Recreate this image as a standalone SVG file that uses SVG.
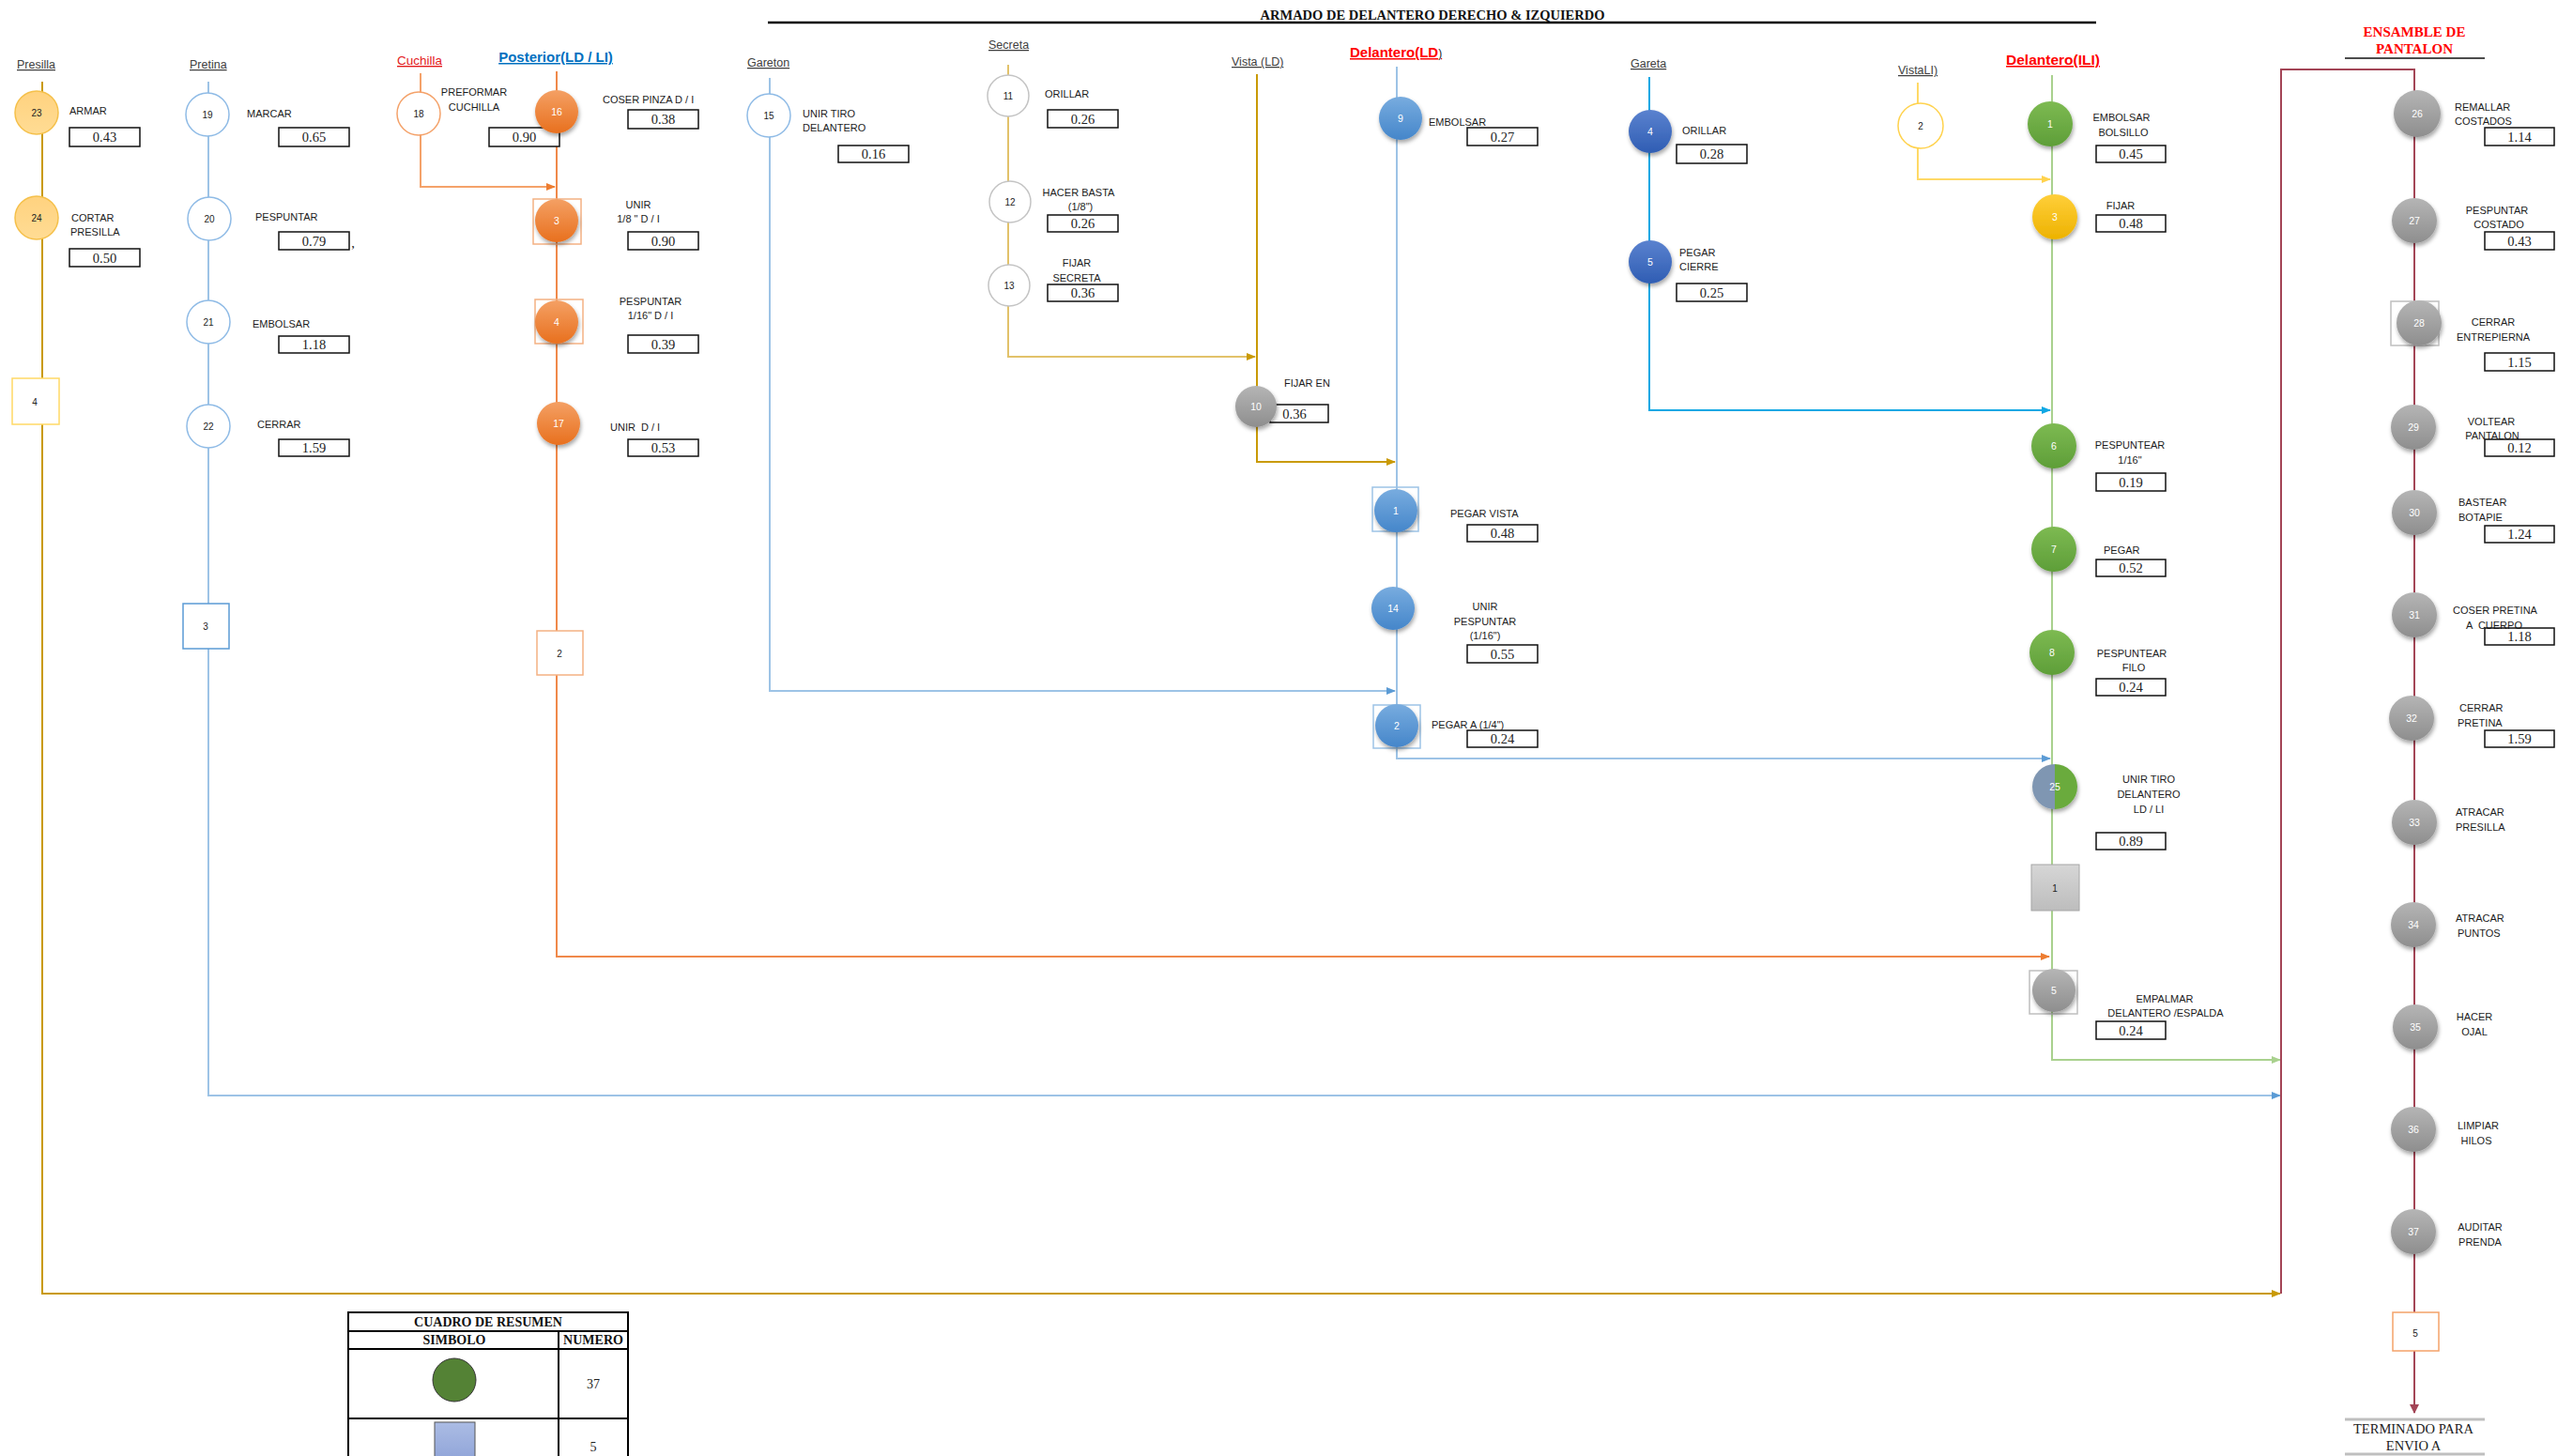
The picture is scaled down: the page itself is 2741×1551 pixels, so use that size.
<svg xmlns="http://www.w3.org/2000/svg" width="2741" height="1551" viewBox="0 0 2741 1551">
<style>
text{font-family:"Liberation Sans",Arial,sans-serif;}
.lb{font-size:11px;fill:#1c1c1c;}
.c{text-anchor:middle;}
.hd{font-size:12.5px;fill:#404040;text-decoration:underline;}
.num{font-size:10px;text-anchor:middle;fill:#222;}
.numw{font-size:10.5px;text-anchor:middle;fill:#fff;}
.val{font-family:"Liberation Serif","Times New Roman",serif;font-size:14.5px;text-anchor:middle;fill:#222;}
.box{fill:#fff;stroke:#111;stroke-width:1.5;}
.ser{font-family:"Liberation Serif","Times New Roman",serif;}
.ln{fill:none;stroke-width:2;}
</style>
<defs>
<filter id="sh" x="-30%" y="-30%" width="160%" height="170%"><feDropShadow dx="1" dy="3" stdDeviation="2" flood-color="#000" flood-opacity="0.35"/></filter>
<linearGradient id="gOr" x1="0" y1="0" x2="0" y2="1"><stop offset="0" stop-color="#F4A064"/><stop offset="1" stop-color="#E8701E"/></linearGradient>
<linearGradient id="gBl" x1="0" y1="0" x2="0" y2="1"><stop offset="0" stop-color="#78ACDF"/><stop offset="1" stop-color="#4586CA"/></linearGradient>
<linearGradient id="gDb" x1="0" y1="0" x2="0" y2="1"><stop offset="0" stop-color="#5B82CF"/><stop offset="1" stop-color="#2F5DB3"/></linearGradient>
<linearGradient id="gGr" x1="0" y1="0" x2="0" y2="1"><stop offset="0" stop-color="#7DBA52"/><stop offset="1" stop-color="#5E9E38"/></linearGradient>
<linearGradient id="gYe" x1="0" y1="0" x2="0" y2="1"><stop offset="0" stop-color="#FFCF3A"/><stop offset="1" stop-color="#EDB200"/></linearGradient>
<linearGradient id="gGy" x1="0" y1="0" x2="0" y2="1"><stop offset="0" stop-color="#B5B5B5"/><stop offset="1" stop-color="#8E8E8E"/></linearGradient>
<linearGradient id="gPa" x1="0" y1="0" x2="0" y2="1"><stop offset="0" stop-color="#FFD27F"/><stop offset="1" stop-color="#FFDC94"/></linearGradient>
<linearGradient id="gRg" x1="0" y1="0" x2="0" y2="1"><stop offset="0" stop-color="#D6D6D6"/><stop offset="1" stop-color="#BDBDBD"/></linearGradient>
<linearGradient id="gSq" x1="0" y1="0" x2="0" y2="1"><stop offset="0" stop-color="#ABBCE4"/><stop offset="1" stop-color="#8A9FD6"/></linearGradient>
<marker id="aGold" markerUnits="userSpaceOnUse" markerWidth="10" markerHeight="8" refX="9" refY="4" orient="auto"><path d="M0,0 L10,4 L0,8 z" fill="#C99A06"/></marker>
<marker id="aBlue" markerUnits="userSpaceOnUse" markerWidth="10" markerHeight="8" refX="9" refY="4" orient="auto"><path d="M0,0 L10,4 L0,8 z" fill="#5B9BD5"/></marker>
<marker id="aOr" markerUnits="userSpaceOnUse" markerWidth="10" markerHeight="8" refX="9" refY="4" orient="auto"><path d="M0,0 L10,4 L0,8 z" fill="#ED7D31"/></marker>
<marker id="aCy" markerUnits="userSpaceOnUse" markerWidth="10" markerHeight="8" refX="9" refY="4" orient="auto"><path d="M0,0 L10,4 L0,8 z" fill="#10A8E4"/></marker>
<marker id="aYe" markerUnits="userSpaceOnUse" markerWidth="10" markerHeight="8" refX="9" refY="4" orient="auto"><path d="M0,0 L10,4 L0,8 z" fill="#FFD24D"/></marker>
<marker id="aGr" markerUnits="userSpaceOnUse" markerWidth="10" markerHeight="8" refX="9" refY="4" orient="auto"><path d="M0,0 L10,4 L0,8 z" fill="#A9D18E"/></marker>
<marker id="aMa" markerUnits="userSpaceOnUse" markerWidth="10" markerHeight="10" refX="9" refY="5" orient="auto"><path d="M0,0 L10,5 L0,10 z" fill="#A34556"/></marker>
</defs>
<rect width="2741" height="1551" fill="#fff"/>

<!-- Title -->
<g id="title">
<line x1="818" y1="24" x2="2233" y2="24" stroke="#000" stroke-width="2.5"/>
<text x="1526" y="21" class="ser" font-size="14.5" font-weight="bold" text-anchor="middle" fill="#111">ARMADO DE DELANTERO DERECHO &amp; IZQUIERDO</text>
</g>

<!-- Headers -->
<g id="headers">
<text x="18" y="73" class="hd">Presilla</text>
<text x="202" y="73" class="hd">Pretina</text>
<text x="423" y="69" font-size="13.5" fill="#E31B1B" text-decoration="underline">Cuchilla</text>
<text x="592" y="66" font-size="15" font-weight="bold" fill="#0070C0" text-anchor="middle" text-decoration="underline">Posterior(LD / LI)</text>
<text x="796" y="71" class="hd">Gareton</text>
<text x="1053" y="52" class="hd">Secreta</text>
<text x="1312" y="70" class="hd">Vista (LD)</text>
<text x="1438" y="61" font-size="15" font-weight="bold" fill="#FF0000" text-decoration="underline">Delantero(LD<tspan fill="#222" font-weight="normal" font-size="12">)</tspan></text>
<text x="1737" y="72" class="hd">Gareta</text>
<text x="2022" y="79" class="hd">VistaLI)</text>
<text x="2187" y="69" font-size="15.5" font-weight="bold" fill="#FF0000" text-anchor="middle" text-decoration="underline">Delantero(ILI)</text>
<text x="2572" y="39" class="ser" font-size="15" font-weight="bold" fill="#FF0000" text-anchor="middle">ENSAMBLE DE</text>
<text x="2572" y="57" class="ser" font-size="15" font-weight="bold" fill="#FF0000" text-anchor="middle">PANTALON</text>
<line x1="2498" y1="62" x2="2647" y2="62" stroke="#111" stroke-width="1.5"/>
</g>

<!-- Connectors -->
<g id="connectors">
<path class="ln" d="M45 87 V1378 H2429" stroke="#C99A06" stroke-width="2.5" marker-end="url(#aGold)"/>
<path class="ln" d="M222 87 V1167 H2429" stroke="#9DC3E6" marker-end="url(#aBlue)"/>
<path class="ln" d="M448 78 V199 H591" stroke="#F4A26A" marker-end="url(#aOr)"/>
<path class="ln" d="M593 76 V1019 H2183" stroke="#F0894A" marker-end="url(#aOr)"/>
<path class="ln" d="M820 83 V736 H1486" stroke="#9DC3E6" marker-end="url(#aBlue)"/>
<path class="ln" d="M1074 69 V380 H1337" stroke="#E2C26A" marker-end="url(#aGold)"/>
<path class="ln" d="M1339 79 V492 H1486" stroke="#C99A06" stroke-width="2.5" marker-end="url(#aGold)"/>
<path class="ln" d="M1488 71 V808 H2184" stroke="#9DC3E6" marker-end="url(#aBlue)"/>
<path class="ln" d="M1757 82 V437 H2184" stroke="#10A8E4" stroke-width="2.5" marker-end="url(#aCy)"/>
<path class="ln" d="M2043 88 V191 H2184" stroke="#FFD966" marker-end="url(#aYe)"/>
<path class="ln" d="M2186 80 V1129 H2429" stroke="#A9D18E" stroke-width="2.5" marker-end="url(#aGr)"/>
<path class="ln" d="M2430 1378 V74 H2572 V1505" stroke="#A34556" stroke-width="3.5" marker-end="url(#aMa)"/>
</g>

<!-- Presilla -->
<g id="n23"><circle cx="39" cy="120" r="23" fill="url(#gPa)" stroke="#F5C04A" stroke-width="1.5"/><text x="39" y="124" class="num">23</text>
<text x="74" y="122" class="lb">ARMAR</text><rect x="74" y="136" width="75" height="20" class="box"/><text x="111.5" y="151" class="val">0.43</text></g>
<g id="n24"><circle cx="39" cy="232" r="23" fill="url(#gPa)" stroke="#F5C04A" stroke-width="1.5"/><text x="39" y="236" class="num">24</text>
<text x="76" y="236" class="lb">CORTAR</text><text x="75" y="251" class="lb">PRESILLA</text><rect x="74" y="265" width="75" height="19" class="box"/><text x="111.5" y="279.5" class="val">0.50</text></g>
<g id="r4"><rect x="13" y="403" width="50" height="49" fill="#fff" stroke="#FFD966" stroke-width="1.5"/><text x="37" y="432" class="num">4</text></g>

<!-- Pretina -->
<g id="n19"><circle cx="221" cy="122" r="23" fill="#fff" stroke="#8FBBE6" stroke-width="1.5"/><text x="221" y="126" class="num">19</text>
<text x="263" y="125" class="lb">MARCAR</text><rect x="297" y="136" width="75" height="20" class="box"/><text x="334.5" y="151" class="val">0.65</text></g>
<g id="n20"><circle cx="223" cy="233" r="23" fill="#fff" stroke="#8FBBE6" stroke-width="1.5"/><text x="223" y="237" class="num">20</text>
<text x="272" y="235" class="lb">PESPUNTAR</text><rect x="297" y="247" width="75" height="19" class="box"/><text x="334.5" y="261.5" class="val">0.79</text><text x="376" y="264" class="val">,</text></g>
<g id="n21"><circle cx="222" cy="343" r="23" fill="#fff" stroke="#8FBBE6" stroke-width="1.5"/><text x="222" y="347" class="num">21</text>
<text x="269" y="349" class="lb">EMBOLSAR</text><rect x="297" y="358" width="75" height="18" class="box"/><text x="334.5" y="372" class="val">1.18</text></g>
<g id="n22"><circle cx="222" cy="454" r="23" fill="#fff" stroke="#8FBBE6" stroke-width="1.5"/><text x="222" y="458" class="num">22</text>
<text x="274" y="456" class="lb">CERRAR</text><rect x="297" y="468" width="75" height="18" class="box"/><text x="334.5" y="482" class="val">1.59</text></g>
<g id="r3"><rect x="195" y="643" width="49" height="48" fill="#fff" stroke="#5B9BD5" stroke-width="1.5"/><text x="219" y="671" class="num">3</text></g>

<!-- Cuchilla -->
<g id="n18"><circle cx="446" cy="121" r="23" fill="#fff" stroke="#F4A26A" stroke-width="1.5"/><text x="446" y="125" class="num">18</text>
<text x="505" y="102" class="lb c">PREFORMAR</text><text x="505" y="118" class="lb c">CUCHILLA</text>
<rect x="521" y="136" width="75" height="20" class="box"/><text x="558.5" y="151" class="val">0.90</text></g>

<!-- Posterior -->
<g id="n16"><circle cx="593" cy="119" r="23" fill="url(#gOr)" filter="url(#sh)"/><text x="593" y="123" class="numw">16</text>
<text x="642" y="110" class="lb">COSER PINZA D / I</text><rect x="669" y="117" width="75" height="20" class="box"/><text x="706.5" y="132" class="val">0.38</text></g>
<g id="n3p"><rect x="568" y="212" width="51" height="48" fill="none" stroke="#F4B183" stroke-width="1.5"/><circle cx="593" cy="235" r="23" fill="url(#gOr)" filter="url(#sh)"/><text x="593" y="239" class="numw">3</text>
<text x="680" y="222" class="lb c">UNIR</text><text x="680" y="237" class="lb c">1/8 " D / I</text><rect x="669" y="247" width="75" height="19" class="box"/><text x="706.5" y="261.5" class="val">0.90</text></g>
<g id="n4p"><rect x="570" y="319" width="51" height="47" fill="none" stroke="#F4B183" stroke-width="1.5"/><circle cx="593" cy="343" r="23" fill="url(#gOr)" filter="url(#sh)"/><text x="593" y="347" class="numw">4</text>
<text x="693" y="325" class="lb c">PESPUNTAR</text><text x="693" y="340" class="lb c">1/16" D / I</text><rect x="669" y="357" width="75" height="19" class="box"/><text x="706.5" y="371.5" class="val">0.39</text></g>
<g id="n17"><circle cx="595" cy="451" r="23" fill="url(#gOr)" filter="url(#sh)"/><text x="595" y="455" class="numw">17</text>
<text x="650" y="459" class="lb" xml:space="preserve">UNIR  D / I</text><rect x="669" y="468" width="75" height="18" class="box"/><text x="706.5" y="482" class="val">0.53</text></g>
<g id="r2"><rect x="572" y="672" width="49" height="47" fill="#fff" stroke="#F4B183" stroke-width="1.5"/><text x="596" y="700" class="num">2</text></g>

<!-- Gareton -->
<g id="n15"><circle cx="819" cy="123" r="23" fill="#fff" stroke="#8FBBE6" stroke-width="1.5"/><text x="819" y="127" class="num">15</text>
<text x="855" y="125" class="lb">UNIR TIRO</text><text x="855" y="140" class="lb">DELANTERO</text>
<rect x="893" y="155" width="75" height="18" class="box"/><text x="930.5" y="169" class="val">0.16</text></g>

<!-- Secreta -->
<g id="n11"><circle cx="1074" cy="102" r="22" fill="#fff" stroke="#C4C4C4" stroke-width="1.5"/><text x="1074" y="106" class="num">11</text>
<text x="1113" y="104" class="lb">ORILLAR</text><rect x="1116" y="117" width="75" height="19" class="box"/><text x="1153.5" y="131.5" class="val">0.26</text></g>
<g id="n12"><circle cx="1076" cy="215" r="22" fill="#fff" stroke="#C4C4C4" stroke-width="1.5"/><text x="1076" y="219" class="num">12</text>
<text x="1149" y="209" class="lb c">HACER BASTA</text><text x="1151" y="224" class="lb c">(1/8")</text><rect x="1116" y="229" width="75" height="18" class="box"/><text x="1153.5" y="243" class="val">0.26</text></g>
<g id="n13"><circle cx="1075" cy="304" r="22" fill="#fff" stroke="#C4C4C4" stroke-width="1.5"/><text x="1075" y="308" class="num">13</text>
<text x="1147" y="284" class="lb c">FIJAR</text><text x="1147" y="300" class="lb c">SECRETA</text><rect x="1116" y="303" width="75" height="18" class="box"/><text x="1153.5" y="317" class="val">0.36</text></g>

<!-- Vista LD -->
<g id="n10"><rect x="1353" y="431" width="62" height="19" class="box"/><text x="1379" y="445.5" class="val">0.36</text>
<circle cx="1338" cy="433" r="22" fill="url(#gGy)" filter="url(#sh)"/><text x="1338" y="437" class="numw">10</text>
<text x="1368" y="412" class="lb">FIJAR EN</text></g>

<!-- Delantero LD -->
<g id="n9"><circle cx="1492" cy="126" r="23" fill="url(#gBl)" filter="url(#sh)"/><text x="1492" y="130" class="numw">9</text>
<text x="1522" y="134" class="lb">EMBOLSAR</text><rect x="1563" y="136" width="75" height="19" class="box"/><text x="1600.5" y="150.5" class="val">0.27</text></g>
<g id="n1d"><rect x="1462" y="519" width="49" height="47" fill="none" stroke="#9DC3E6" stroke-width="1.5"/><circle cx="1487" cy="544" r="23" fill="url(#gBl)" filter="url(#sh)"/><text x="1487" y="548" class="numw">1</text>
<text x="1545" y="551" class="lb">PEGAR VISTA</text><rect x="1563" y="559" width="75" height="18" class="box"/><text x="1600.5" y="573" class="val">0.48</text></g>
<g id="n14"><circle cx="1484" cy="648" r="23" fill="url(#gBl)" filter="url(#sh)"/><text x="1484" y="652" class="numw">14</text>
<text x="1582" y="650" class="lb c">UNIR</text><text x="1582" y="666" class="lb c">PESPUNTAR</text><text x="1582" y="681" class="lb c">(1/16")</text>
<rect x="1563" y="687" width="75" height="19" class="box"/><text x="1600.5" y="701.5" class="val">0.55</text></g>
<g id="n2d"><rect x="1463" y="751" width="50" height="46" fill="none" stroke="#9DC3E6" stroke-width="1.5"/><circle cx="1488" cy="773" r="23" fill="url(#gBl)" filter="url(#sh)"/><text x="1488" y="777" class="numw">2</text>
<rect x="1563" y="778" width="75" height="18" class="box"/><text x="1600.5" y="792" class="val">0.24</text><text x="1525" y="776" class="lb">PEGAR A (1/4")</text></g>

<!-- Gareta -->
<g id="n4g"><circle cx="1758" cy="140" r="23" fill="url(#gDb)" filter="url(#sh)"/><text x="1758" y="144" class="numw">4</text>
<text x="1792" y="143" class="lb">ORILLAR</text><rect x="1786" y="154" width="75" height="20" class="box"/><text x="1823.5" y="169" class="val">0.28</text></g>
<g id="n5g"><circle cx="1758" cy="279" r="23" fill="url(#gDb)" filter="url(#sh)"/><text x="1758" y="283" class="numw">5</text>
<text x="1789" y="273" class="lb">PEGAR</text><text x="1789" y="288" class="lb">CIERRE</text><rect x="1786" y="302" width="75" height="19" class="box"/><text x="1823.5" y="316.5" class="val">0.25</text></g>

<!-- Vista LI -->
<g id="n2v"><circle cx="2046" cy="134" r="24" fill="#fff" stroke="#FFD24D" stroke-width="1.5"/><text x="2046" y="138" class="num">2</text></g>

<!-- Delantero ILI -->
<g id="n1i"><circle cx="2184" cy="132" r="24" fill="url(#gGr)" filter="url(#sh)"/><text x="2184" y="136" class="numw">1</text>
<text x="2260" y="129" class="lb c">EMBOLSAR</text><text x="2262" y="145" class="lb c">BOLSILLO</text><rect x="2233" y="155" width="74" height="18" class="box"/><text x="2270" y="169" class="val">0.45</text></g>
<g id="n3i"><circle cx="2189" cy="231" r="24" fill="url(#gYe)" filter="url(#sh)"/><text x="2189" y="235" class="numw">3</text>
<text x="2259" y="223" class="lb c">FIJAR</text><rect x="2233" y="229" width="74" height="18" class="box"/><text x="2270" y="243" class="val">0.48</text></g>
<g id="n6"><circle cx="2188" cy="475" r="24" fill="url(#gGr)" filter="url(#sh)"/><text x="2188" y="479" class="numw">6</text>
<text x="2269" y="478" class="lb c">PESPUNTEAR</text><text x="2269" y="494" class="lb c">1/16"</text><rect x="2233" y="504" width="74" height="19" class="box"/><text x="2270" y="518.5" class="val">0.19</text></g>
<g id="n7"><circle cx="2188" cy="585" r="24" fill="url(#gGr)" filter="url(#sh)"/><text x="2188" y="589" class="numw">7</text>
<text x="2241" y="590" class="lb">PEGAR</text><rect x="2233" y="596" width="74" height="18" class="box"/><text x="2270" y="610" class="val">0.52</text></g>
<g id="n8"><circle cx="2186" cy="695" r="24" fill="url(#gGr)" filter="url(#sh)"/><text x="2186" y="699" class="numw">8</text>
<text x="2271" y="700" class="lb c">PESPUNTEAR</text><text x="2273" y="715" class="lb c">FILO</text><rect x="2233" y="723" width="74" height="18" class="box"/><text x="2270" y="737" class="val">0.24</text></g>
<g id="n25"><g filter="url(#sh)"><path d="M2189 814 A24 24 0 0 0 2189 862 Z" fill="#7F96B2"/><path d="M2189 814 A24 24 0 0 1 2189 862 Z" fill="#6AAB3E"/></g><text x="2189" y="842" class="numw">25</text>
<text x="2289" y="834" class="lb c">UNIR TIRO</text><text x="2289" y="850" class="lb c">DELANTERO</text><text x="2289" y="866" class="lb c">LD / LI</text>
<rect x="2233" y="887" width="74" height="18" class="box"/><text x="2270" y="901" class="val">0.89</text></g>
<g id="r1"><rect x="2164" y="921" width="51" height="49" fill="url(#gRg)" stroke="#A6A6A6" stroke-width="1"/><text x="2189" y="950" class="num">1</text></g>
<g id="n5i"><rect x="2162" y="1034" width="51" height="46" fill="none" stroke="#BFBFBF" stroke-width="1.5"/><circle cx="2188" cy="1055" r="23" fill="url(#gGy)" filter="url(#sh)"/><text x="2188" y="1059" class="numw">5</text>
<text x="2306" y="1068" class="lb c">EMPALMAR</text><text x="2307" y="1083" class="lb c">DELANTERO /ESPALDA</text><rect x="2233" y="1088" width="74" height="19" class="box"/><text x="2270" y="1102.5" class="val">0.24</text></g>

<!-- Ensamble -->
<g id="n26"><circle cx="2575" cy="121" r="25" fill="url(#gGy)" filter="url(#sh)"/><text x="2575" y="125" class="numw">26</text>
<text x="2615" y="118" class="lb">REMALLAR</text><text x="2615" y="133" class="lb">COSTADOS</text><rect x="2647" y="136" width="74" height="19" class="box"/><text x="2684" y="150.5" class="val">1.14</text></g>
<g id="n27"><circle cx="2572" cy="235" r="24" fill="url(#gGy)" filter="url(#sh)"/><text x="2572" y="239" class="numw">27</text>
<text x="2660" y="228" class="lb c">PESPUNTAR</text><text x="2662" y="243" class="lb c">COSTADO</text><rect x="2647" y="247" width="74" height="19" class="box"/><text x="2684" y="261.5" class="val">0.43</text></g>
<g id="n28"><rect x="2547" y="321" width="51" height="47" fill="none" stroke="#BFBFBF" stroke-width="1.5"/><circle cx="2577" cy="344" r="24" fill="url(#gGy)" filter="url(#sh)"/><text x="2577" y="348" class="numw">28</text>
<text x="2656" y="347" class="lb c">CERRAR</text><text x="2656" y="363" class="lb c">ENTREPIERNA</text><rect x="2647" y="376" width="74" height="19" class="box"/><text x="2684" y="390.5" class="val">1.15</text></g>
<g id="n29"><circle cx="2571" cy="455" r="24" fill="url(#gGy)" filter="url(#sh)"/><text x="2571" y="459" class="numw">29</text>
<text x="2654" y="453" class="lb c">VOLTEAR</text><text x="2655" y="468" class="lb c">PANTALON</text><rect x="2647" y="468" width="74" height="18" class="box" fill-opacity="0"/><text x="2684" y="482" class="val">0.12</text></g>
<g id="n30"><circle cx="2572" cy="546" r="24" fill="url(#gGy)" filter="url(#sh)"/><text x="2572" y="550" class="numw">30</text>
<text x="2619" y="539" class="lb">BASTEAR</text><text x="2619" y="555" class="lb">BOTAPIE</text><rect x="2647" y="560" width="74" height="18" class="box"/><text x="2684" y="574" class="val">1.24</text></g>
<g id="n31"><circle cx="2572" cy="655" r="24" fill="url(#gGy)" filter="url(#sh)"/><text x="2572" y="659" class="numw">31</text>
<text x="2658" y="654" class="lb c">COSER PRETINA</text><text x="2657" y="670" class="lb c" xml:space="preserve">A  CUERPO</text><rect x="2647" y="669" width="74" height="18" class="box" fill-opacity="0"/><text x="2684" y="683" class="val">1.18</text></g>
<g id="n32"><circle cx="2569" cy="765" r="24" fill="url(#gGy)" filter="url(#sh)"/><text x="2569" y="769" class="numw">32</text>
<text x="2620" y="758" class="lb">CERRAR</text><text x="2618" y="774" class="lb">PRETINA</text><rect x="2647" y="778" width="74" height="18" class="box"/><text x="2684" y="792" class="val">1.59</text></g>
<g id="n33"><circle cx="2572" cy="876" r="24" fill="url(#gGy)" filter="url(#sh)"/><text x="2572" y="880" class="numw">33</text>
<text x="2616" y="869" class="lb">ATRACAR</text><text x="2616" y="885" class="lb">PRESILLA</text></g>
<g id="n34"><circle cx="2571" cy="985" r="24" fill="url(#gGy)" filter="url(#sh)"/><text x="2571" y="989" class="numw">34</text>
<text x="2616" y="982" class="lb">ATRACAR</text><text x="2618" y="998" class="lb">PUNTOS</text></g>
<g id="n35"><circle cx="2573" cy="1094" r="24" fill="url(#gGy)" filter="url(#sh)"/><text x="2573" y="1098" class="numw">35</text>
<text x="2636" y="1087" class="lb c">HACER</text><text x="2636" y="1103" class="lb c">OJAL</text></g>
<g id="n36"><circle cx="2571" cy="1203" r="24" fill="url(#gGy)" filter="url(#sh)"/><text x="2571" y="1207" class="numw">36</text>
<text x="2640" y="1203" class="lb c">LIMPIAR</text><text x="2638" y="1219" class="lb c">HILOS</text></g>
<g id="n37"><circle cx="2571" cy="1312" r="24" fill="url(#gGy)" filter="url(#sh)"/><text x="2571" y="1316" class="numw">37</text>
<text x="2642" y="1311" class="lb c">AUDITAR</text><text x="2642" y="1327" class="lb c">PRENDA</text></g>
<g id="r5"><rect x="2549" y="1398" width="49" height="41" fill="#fff" stroke="#F4A26A" stroke-width="1.5"/><text x="2573" y="1424" class="num">5</text></g>
<g id="end"><line x1="2498" y1="1512" x2="2647" y2="1512" stroke="#BFBFBF" stroke-width="3"/>
<text x="2571" y="1527" class="ser" font-size="14.5" text-anchor="middle" fill="#222">TERMINADO PARA</text>
<text x="2571" y="1545" class="ser" font-size="14.5" text-anchor="middle" fill="#222">ENVIO A</text>
<line x1="2498" y1="1549" x2="2647" y2="1549" stroke="#BFBFBF" stroke-width="3"/></g>

<!-- Summary table -->
<g id="summary">
<rect x="371" y="1398" width="298" height="170" fill="#fff" stroke="#000" stroke-width="2"/>
<line x1="371" y1="1418" x2="669" y2="1418" stroke="#000" stroke-width="2"/>
<line x1="371" y1="1437" x2="669" y2="1437" stroke="#000" stroke-width="2"/>
<line x1="371" y1="1511" x2="669" y2="1511" stroke="#000" stroke-width="2"/>
<line x1="595" y1="1418" x2="595" y2="1560" stroke="#000" stroke-width="2"/>
<text x="520" y="1413" class="ser" font-size="14" font-weight="bold" text-anchor="middle" fill="#111">CUADRO DE RESUMEN</text>
<text x="484" y="1432" class="ser" font-size="14" font-weight="bold" text-anchor="middle" fill="#111">SIMBOLO</text>
<text x="632" y="1432" class="ser" font-size="14" font-weight="bold" text-anchor="middle" fill="#111">NUMERO</text>
<circle cx="484" cy="1470" r="23" fill="#548235" stroke="#333" stroke-width="1"/>
<text x="632" y="1479" class="ser" font-size="14" text-anchor="middle" fill="#222">37</text>
<rect x="463" y="1515" width="43" height="50" fill="url(#gSq)" stroke="#555" stroke-width="1"/>
<text x="632" y="1546" class="ser" font-size="14" text-anchor="middle" fill="#222">5</text>
</g>
</svg>
